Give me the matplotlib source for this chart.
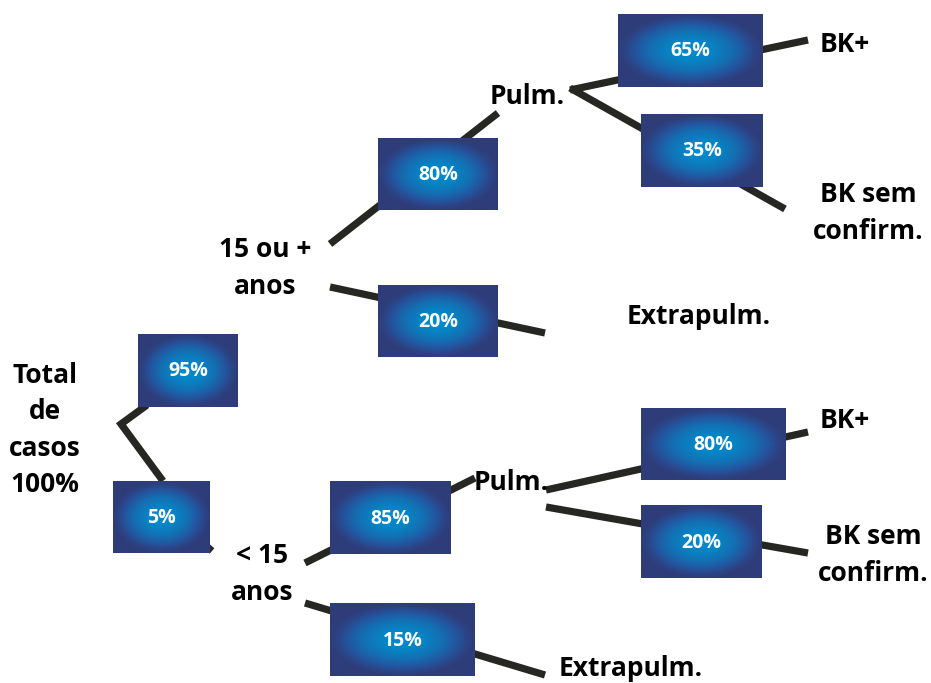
import numpy as np
import matplotlib
matplotlib.use("Agg")
import matplotlib.pyplot as plt
from matplotlib.colors import LinearSegmentedColormap

# ---- data ----
branch_pcts = ["95%", "5%", "80%", "20%", "85%", "15%", "65%", "35%", "80%", "20%"]
node_labels = ["Total\nde\ncasos\n100%", "15 ou +\nanos", "< 15\nanos",
               "Pulm.", "Extrapulm.", "Pulm.", "Extrapulm.",
               "BK+", "BK sem\nconfirm.", "BK+", "BK sem\nconfirm."]

# ---- layout (pixel coordinates, y downward) ----
W, H = 931, 683
fig = plt.figure(figsize=(W / 100, H / 100), dpi=100)
ax = fig.add_axes([0, 0, 1, 1])
ax.set_xlim(0, W)
ax.set_ylim(H, 0)
ax.axis("off")

font = "Open Sans"
line_color = "#262622"
lw = 5.2

segments = [
    [(147, 405), (121, 424), (163, 481)],
    [(205, 545), (212, 551)],
    [(330, 244), (498, 113)],
    [(330, 287), (545, 333)],
    [(570, 90), (808, 40)],
    [(570, 88), (785, 209)],
    [(305, 563), (475, 478)],
    [(305, 603), (545, 675)],
    [(546, 490), (808, 432)],
    [(546, 507), (808, 553)],
]
for seg in segments:
    xs, ys = zip(*seg)
    ax.plot(xs, ys, color=line_color, lw=lw, solid_capstyle="butt",
            solid_joinstyle="miter", zorder=1)

boxes = [
    (138, 334, 238, 407),  # 95
    (113, 481, 210, 553),  # 5
    (378, 138, 498, 210),  # 80
    (378, 285, 498, 357),  # 20
    (330, 481, 451, 554),  # 85
    (330, 603, 475, 676),  # 15
    (618, 14, 763, 87),    # 65
    (641, 114, 763, 187),  # 35
    (641, 408, 786, 480),  # 80
    (641, 505, 762, 578),  # 20
]

cmap = LinearSegmentedColormap.from_list(
    "rad", [(0.0, "#028ccf"), (0.3, "#0783c4"), (0.55, "#146fb2"),
            (0.75, "#2356a0"), (0.9, "#2c4486"), (1.0, "#2e3d7a")])

for (x0, y0, x1, y1), pct in zip(boxes, branch_pcts):
    nx, ny = 200, 120
    gx = np.linspace(-1, 1, nx)
    gy = np.linspace(-1, 1, ny)
    X, Y = np.meshgrid(gx, gy)
    R = np.sqrt(X ** 2 + Y ** 2)
    R = np.clip(R, 0, 1)
    ax.imshow(R, cmap=cmap, vmin=0, vmax=1, extent=(x0, x1, y1, y0),
              aspect="auto", interpolation="bilinear", zorder=2)
    ax.text((x0 + x1) / 2, (y0 + y1) / 2 + 1, pct, color="white",
            fontsize=14, fontweight="bold", family=font,
            ha="center", va="center", zorder=3)

label_pos = [
    (45, 430), (265, 268), (262, 574),
    (527, 97), (699, 316), (511, 482), (631, 669),
    (845, 44), (868, 213), (845, 421), (873, 555),
]
for (x, y), txt in zip(label_pos, node_labels):
    ax.text(x, y, txt, color="black", fontsize=19, fontweight="bold",
            family=font, ha="center", va="center", linespacing=1.45, zorder=4)

fig.savefig("out.png", dpi=100)
